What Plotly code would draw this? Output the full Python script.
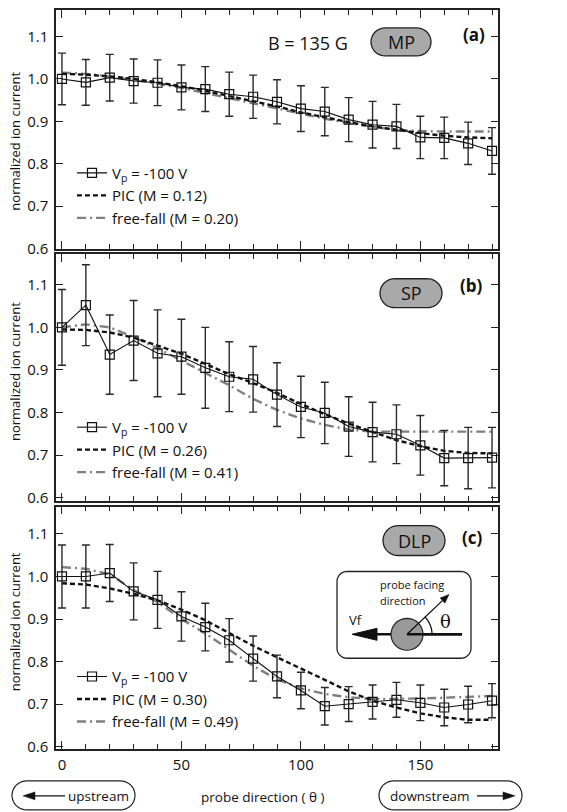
import math
import plotly.graph_objects as go

theta = [0, 10, 20, 30, 40, 50, 60, 70, 80, 90, 100, 110, 120, 130, 140, 150, 160, 170, 180]

# Panel (a) MP
a_vp = [1.000, 0.992, 1.003, 0.995, 0.991, 0.980, 0.976, 0.964, 0.958, 0.946, 0.930, 0.923, 0.904, 0.892, 0.888, 0.862, 0.861, 0.848, 0.830]
a_err = [0.061, 0.054, 0.055, 0.052, 0.054, 0.053, 0.053, 0.052, 0.051, 0.052, 0.054, 0.057, 0.052, 0.055, 0.052, 0.050, 0.049, 0.050, 0.055]
a_pic = [1.012, 1.010, 1.006, 1.000, 0.992, 0.983, 0.972, 0.960, 0.948, 0.935, 0.921, 0.909, 0.898, 0.888, 0.880, 0.872, 0.866, 0.862, 0.860]
a_ff = [1.015, 1.012, 1.006, 0.998, 0.989, 0.979, 0.967, 0.955, 0.943, 0.930, 0.918, 0.906, 0.896, 0.887, 0.880, 0.877, 0.876, 0.876, 0.876]

# Panel (b) SP
b_vp = [1.000, 1.052, 0.936, 0.969, 0.939, 0.931, 0.905, 0.884, 0.878, 0.842, 0.813, 0.799, 0.767, 0.754, 0.749, 0.723, 0.693, 0.693, 0.694]
b_err = [0.089, 0.095, 0.093, 0.094, 0.102, 0.088, 0.095, 0.082, 0.077, 0.075, 0.072, 0.072, 0.070, 0.070, 0.069, 0.070, 0.065, 0.072, 0.071]
b_pic = [0.995, 0.994, 0.988, 0.976, 0.957, 0.938, 0.914, 0.890, 0.869, 0.846, 0.820, 0.796, 0.774, 0.754, 0.735, 0.721, 0.710, 0.705, 0.704]
b_ff = [1.000, 1.007, 1.000, 0.977, 0.951, 0.922, 0.893, 0.864, 0.832, 0.806, 0.786, 0.771, 0.760, 0.755, 0.755, 0.755, 0.755, 0.755, 0.755]

# Panel (c) DLP
c_vp = [1.000, 1.000, 1.008, 0.965, 0.945, 0.906, 0.881, 0.850, 0.807, 0.765, 0.732, 0.695, 0.700, 0.705, 0.710, 0.703, 0.692, 0.699, 0.708]
c_err = [0.074, 0.074, 0.067, 0.067, 0.067, 0.058, 0.056, 0.051, 0.053, 0.050, 0.043, 0.044, 0.041, 0.040, 0.041, 0.042, 0.043, 0.043, 0.040]
c_pic = [0.984, 0.981, 0.972, 0.959, 0.944, 0.922, 0.897, 0.866, 0.837, 0.810, 0.784, 0.757, 0.730, 0.708, 0.692, 0.678, 0.669, 0.663, 0.663]
c_ff = [1.022, 1.018, 1.005, 0.968, 0.940, 0.900, 0.866, 0.829, 0.790, 0.758, 0.737, 0.724, 0.716, 0.712, 0.712, 0.713, 0.715, 0.717, 0.719]

probes = ["MP", "SP", "DLP"]
panel_tags = ["(a)", "(b)", "(c)"]
m_pic = ["0.12", "0.26", "0.30"]
m_ff = ["0.20", "0.41", "0.49"]
y_ticks = [0.6, 0.7, 0.8, 0.9, 1.0, 1.1]
x_ticks = [0, 50, 100, 150]

W, H = 567, 812
PL, PR, PT, PB = 56, 498, 8, 749
FONT = "Open Sans"


def px(x):
    return (x - PL) / (PR - PL)


def py(y):
    return (PB - y) / (PB - PT)


def path_px(points, close=True):
    s = "M" + " L".join(f"{px(x):.5f},{py(y):.5f}" for x, y in points)
    return s + (" Z" if close else "")


def rounded_rect(x0, y0, x1, y1, r, n=10):
    pts = []
    corners = [(x1 - r, y0 + r, -90, 0), (x1 - r, y1 - r, 0, 90),
               (x0 + r, y1 - r, 90, 180), (x0 + r, y0 + r, 180, 270)]
    for cx, cy, a0, a1 in corners:
        for k in range(n + 1):
            a = math.radians(a0 + (a1 - a0) * k / n)
            pts.append((cx + r * math.cos(a), cy + r * math.sin(a)))
    return path_px(pts)


def text(t, x, y, size, xanchor="center", family=None, angle=0):
    f = dict(size=size)
    if family:
        f["family"] = family
    return dict(text=t, xref="paper", yref="paper", x=px(x), y=py(y), showarrow=False,
                xanchor=xanchor, yanchor="middle", font=f, textangle=angle)


panels = [
    (a_vp, a_err, a_pic, a_ff),
    (b_vp, b_err, b_pic, b_ff),
    (c_vp, c_err, c_pic, c_ff),
]
panel_px = [(8, 247.5), (252.5, 500.5), (506, 749)]
y_ranges = [[0.599, 1.1627], [0.5918, 1.1726], [0.5944, 1.1641]]
legend_top = [155, 410, 660]

fig = go.Figure()
layout = dict(
    width=W, height=H,
    margin=dict(l=PL, r=W - PR, t=PT, b=H - PB),
    paper_bgcolor="white", plot_bgcolor="white",
    font=dict(family=FONT, size=13, color="#111"),
    showlegend=True,
)

annotations = []
shapes = []

for i, (vp, err, pic, ff) in enumerate(panels):
    sfx = "" if i == 0 else str(i + 1)
    xa, ya = "x" + sfx, "y" + sfx
    leg = "legend" if i == 0 else f"legend{i + 1}"
    fig.add_trace(go.Scatter(
        x=theta, y=ff, mode="lines", xaxis=xa, yaxis=ya, legend=leg,
        name=f"free-fall (M = {m_ff[i]})",
        line=dict(color="#7f7f7f", width=2.4, dash="9px,4px,2px,4px")))
    fig.add_trace(go.Scatter(
        x=theta, y=pic, mode="lines", xaxis=xa, yaxis=ya, legend=leg,
        name=f"PIC (M = {m_pic[i]})",
        line=dict(color="#111", width=2.4, dash="5px,3px")))
    fig.add_trace(go.Scatter(
        x=theta, y=vp, mode="lines+markers", xaxis=xa, yaxis=ya, legend=leg,
        name="V<sub>p</sub> = -100 V",
        line=dict(color="#111", width=1.1),
        marker=dict(symbol="square-open", size=9, color="#111", line=dict(width=1.2)),
        error_y=dict(type="data", array=err, visible=True, thickness=1.4, width=4, color="#2a2a2a")))

    top, bot = panel_px[i]
    dom = [py(bot), py(top)]
    layout["xaxis" + sfx] = dict(
        domain=[0, 1], anchor=ya, range=[-2.5, 182.5],
        tickmode="array", tickvals=x_ticks, ticks="inside", ticklen=8, tickwidth=1.3,
        tickcolor="#222",
        minor=dict(tickmode="linear", tick0=0, dtick=10, ticks="inside", ticklen=5,
                   tickwidth=1.3, tickcolor="#222"),
        showline=True, linecolor="#222", linewidth=1.5, mirror="ticks",
        showgrid=False, zeroline=False, showticklabels=(i == 2),
        tickfont=dict(size=15), ticklabelstandoff=1)
    layout["yaxis" + sfx] = dict(
        domain=dom, anchor=xa, range=y_ranges[i],
        tickmode="array", tickvals=y_ticks, tickformat=".1f",
        ticks="inside", ticklen=7, tickwidth=1.3, tickcolor="#222",
        showline=True, linecolor="#222", linewidth=1.5, mirror="ticks",
        showgrid=False, zeroline=False, tickfont=dict(size=15), ticklabelstandoff=3)
    layout[leg] = dict(
        x=px(72), y=py(legend_top[i]), xanchor="left", yanchor="top",
        bgcolor="rgba(0,0,0,0)", font=dict(size=15, family=FONT), traceorder="reversed",
        itemwidth=30, tracegroupgap=0)

# y axis titles
for yc in [140, 371, 622]:
    annotations.append(text("normalized ion current", 15, yc, 13, angle=-90))

# probe pills and panel tags
pills = [(401, 40, 60, 28), (411, 292, 62, 29), (414, 540, 62, 30)]
tags = [(474, 33), (471, 284), (472, 537)]
for (cx, cy, w, h), name, (tx, ty), tag in zip(pills, probes, tags, panel_tags):
    shapes.append(dict(type="path", xref="paper", yref="paper",
                       path=rounded_rect(cx - w / 2, cy - h / 2, cx + w / 2, cy + h / 2, h / 2),
                       fillcolor="#a9a9a9", line=dict(color="#222", width=1.3)))
    annotations.append(text(name, cx, cy, 18))
    annotations.append(text(f"<b>{tag}</b>", tx, ty, 17))

annotations.append(text("B = 135 G", 308, 41, 18))

# inset diagram in panel (c)
shapes.append(dict(type="path", xref="paper", yref="paper",
                   path=rounded_rect(337, 571, 471, 658, 10), fillcolor="white",
                   line=dict(color="#222", width=1.3)))
ccx, ccy, cr = 407, 634, 16
shapes.append(dict(type="path", xref="paper", yref="paper",
                   path=path_px([(352, ccy), (377, ccy - 6), (377, ccy + 6)]),
                   fillcolor="#111", line=dict(color="#111", width=1)))
shapes.append(dict(type="path", xref="paper", yref="paper",
                   path=path_px([(376, ccy), (462, ccy)], close=False),
                   line=dict(color="#111", width=2.6)))
circ = [(ccx + cr * math.cos(math.radians(a)), ccy + cr * math.sin(math.radians(a))) for a in range(0, 361, 10)]
shapes.append(dict(type="path", xref="paper", yref="paper", path=path_px(circ),
                   fillcolor="#9a9a9a", line=dict(color="#222", width=1.2)))
shapes.append(dict(type="path", xref="paper", yref="paper",
                   path=path_px([(ccx, ccy), (ccx + 55, ccy)], close=False),
                   line=dict(color="#111", width=2.6)))
tipx, tipy = 449, 594
ang = math.atan2(tipy - ccy, tipx - ccx)
bx, by = tipx - 9 * math.cos(ang), tipy - 9 * math.sin(ang)
nx, ny = -math.sin(ang) * 3.5, math.cos(ang) * 3.5
shapes.append(dict(type="path", xref="paper", yref="paper",
                   path=path_px([(ccx, ccy), (bx, by)], close=False),
                   line=dict(color="#111", width=1.3)))
shapes.append(dict(type="path", xref="paper", yref="paper",
                   path=path_px([(tipx, tipy), (bx + nx, by + ny), (bx - nx, by - ny)]),
                   fillcolor="#111", line=dict(color="#111", width=0.5)))
arc = [(ccx + 25 * math.cos(math.radians(-a)), ccy + 25 * math.sin(math.radians(-a))) for a in range(0, 46, 3)]
shapes.append(dict(type="path", xref="paper", yref="paper", path=path_px(arc, close=False),
                   line=dict(color="#111", width=1.3)))
annotations += [
    text("probe facing", 378, 584, 11, xanchor="left"),
    text("direction", 378, 600, 11, xanchor="left"),
    text("Vf", 355, 620, 13),
    text("θ", 445, 621, 18, family="DejaVu Serif"),
]

# bottom labels
annotations.append(text("probe direction ( θ )", 263, 797, 13.5))
shapes.append(dict(type="path", xref="paper", yref="paper",
                   path=rounded_rect(12, 781, 135, 810, 14.5), fillcolor="white",
                   line=dict(color="#222", width=1.2)))
shapes.append(dict(type="path", xref="paper", yref="paper",
                   path=rounded_rect(379, 781, 522, 810, 14.5), fillcolor="white",
                   line=dict(color="#222", width=1.2)))
shapes.append(dict(type="path", xref="paper", yref="paper",
                   path=path_px([(33, 796), (65, 796)], close=False), line=dict(color="#111", width=1.3)))
shapes.append(dict(type="path", xref="paper", yref="paper",
                   path=path_px([(23, 796), (35, 792), (35, 800)]), fillcolor="#111",
                   line=dict(color="#111", width=0.5)))
shapes.append(dict(type="path", xref="paper", yref="paper",
                   path=path_px([(477, 796), (505, 796)], close=False), line=dict(color="#111", width=1.3)))
shapes.append(dict(type="path", xref="paper", yref="paper",
                   path=path_px([(515, 796), (503, 792), (503, 800)]), fillcolor="#111",
                   line=dict(color="#111", width=0.5)))
annotations.append(text("upstream", 98, 796, 13.5))
annotations.append(text("downstream", 429, 796, 13.5))

layout["annotations"] = annotations
layout["shapes"] = shapes
fig.update_layout(**layout)
fig.write_html("out.html", config={"displayModeBar": False},
               post_script="document.body.style.margin='0';document.body.style.padding='0';")
